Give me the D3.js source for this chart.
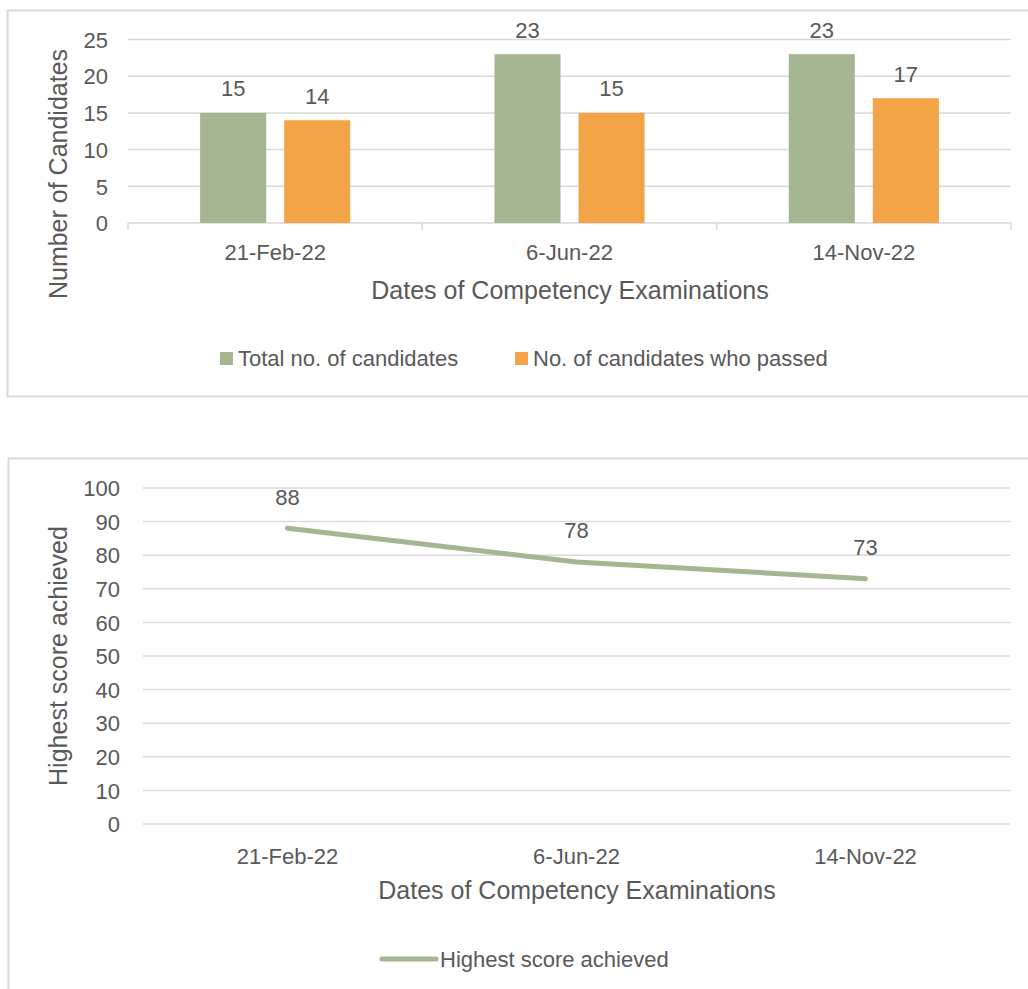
<!DOCTYPE html>
<html>
<head>
<meta charset="utf-8">
<script src="https://cdn.jsdelivr.net/npm/d3@7"></script>
<style>
  html, body { margin: 0; padding: 0; background: #fff; }
  svg text { font-family: "Liberation Sans", Arial, sans-serif; fill: #595959; }
</style>
</head>
<body>
<svg id="chart" width="1028" height="989"></svg>
<script>
// Exam dates shared by both charts
const examDates = ["21-Feb-22", "6-Jun-22", "14-Nov-22"];
// Candidates per exam
const totalCandidates = [15, 23, 23];
const passedCandidates = [14, 15, 17];
// Highest score per exam
const highestScores = [88, 78, 73];
// Axis ticks
const countTicks = [0, 5, 10, 15, 20, 25];
const scoreTicks = [0, 10, 20, 30, 40, 50, 60, 70, 80, 90, 100];

const seriesNames = ["Total no. of candidates", "No. of candidates who passed"];
const lineName = "Highest score achieved";
const xTitle = "Dates of Competency Examinations";

const GREEN = "#a6b592";
const ORANGE = "#f2a447";
const GRID = "#d9d9d9";
const TICK_FS = 22, TITLE_FS = 25, LEGEND_FS = 22, VALUE_FS = 22;

const svg = d3.select("#chart");

// ---------- Bar chart: candidates ----------
{
  const g = svg.append("g");
  g.append("rect").attr("x", 7.5).attr("y", 10.5).attr("width", 1030).attr("height", 386)
    .attr("fill", "#fff").attr("stroke", GRID).attr("stroke-width", 2);

  const left = 128, right = 1011, top = 39.5, bottom = 223;
  const x = d3.scaleBand().domain(examDates).range([left, right]);
  const y = d3.scaleLinear().domain([0, 25]).range([bottom, top]);
  // two bars per date, grouped in the middle of each band
  const groupW = x.bandwidth() * 0.51;
  const inner = d3.scaleBand().domain([0, 1])
    .range([(x.bandwidth() - groupW) / 2, (x.bandwidth() + groupW) / 2])
    .paddingInner(0.214);

  // gridlines
  g.selectAll("line.grid").data(countTicks.filter(d => d > 0)).join("line")
    .attr("x1", left).attr("x2", right)
    .attr("y1", d => y(d)).attr("y2", d => y(d))
    .attr("stroke", GRID).attr("stroke-width", 1.5);

  // x axis with tick marks at category boundaries
  const xAxis = d3.axisBottom(x).tickSize(0).tickPadding(0).tickFormat("");
  const ax = g.append("g").attr("transform", `translate(0,${bottom})`).call(xAxis);
  ax.select(".domain").attr("stroke", GRID).attr("stroke-width", 1.5).attr("d", `M${left},0H${right}`);
  g.selectAll("line.bound").data(d3.range(examDates.length + 1)).join("line")
    .attr("x1", i => left + i * x.step()).attr("x2", i => left + i * x.step())
    .attr("y1", bottom).attr("y2", bottom + 7)
    .attr("stroke", GRID).attr("stroke-width", 1.5);

  g.selectAll("text.cat").data(examDates).join("text")
    .attr("x", d => x(d) + x.bandwidth() / 2).attr("y", 252)
    .attr("text-anchor", "middle").attr("dominant-baseline", "central")
    .attr("font-size", TICK_FS).text(d => d);

  // y axis labels
  const yAxis = d3.axisLeft(y).tickValues(countTicks).tickSize(0).tickPadding(0);
  const ay = g.append("g").attr("transform", `translate(${left - 20},0)`).call(yAxis);
  ay.select(".domain").remove();
  ay.selectAll("text").attr("font-size", TICK_FS).attr("fill", "#595959")
    .attr("font-family", "Liberation Sans, Arial, sans-serif").attr("dy", "0.35em");

  // bars
  const series = [totalCandidates, passedCandidates];
  const colors = [GREEN, ORANGE];
  series.forEach((vals, s) => {
    g.selectAll(`rect.bar${s}`).data(vals).join("rect")
      .attr("x", (d, i) => x(examDates[i]) + inner(s))
      .attr("width", inner.bandwidth())
      .attr("y", d => y(d)).attr("height", d => bottom - y(d))
      .attr("fill", colors[s]);
    g.selectAll(`text.val${s}`).data(vals).join("text")
      .attr("x", (d, i) => x(examDates[i]) + inner(s) + inner.bandwidth() / 2)
      .attr("y", d => y(d) - 24)
      .attr("text-anchor", "middle").attr("dominant-baseline", "central")
      .attr("font-size", VALUE_FS).attr("fill", "#404040").text(d => d);
  });

  // axis titles
  g.append("text").attr("x", 570).attr("y", 290)
    .attr("text-anchor", "middle").attr("dominant-baseline", "central")
    .attr("font-size", TITLE_FS).text(xTitle);
  g.append("text").attr("transform", "translate(58,174) rotate(-90)")
    .attr("text-anchor", "middle").attr("dominant-baseline", "central")
    .attr("font-size", TITLE_FS).text("Number of Candidates");

  // legend
  const leg = [{ x: 220, c: GREEN, t: seriesNames[0] }, { x: 515, c: ORANGE, t: seriesNames[1] }];
  leg.forEach(l => {
    g.append("rect").attr("x", l.x).attr("y", 352).attr("width", 13).attr("height", 13).attr("fill", l.c);
    g.append("text").attr("x", l.x + 18).attr("y", 358.5).attr("dominant-baseline", "central")
      .attr("font-size", LEGEND_FS).text(l.t);
  });
}

// ---------- Line chart: highest score ----------
{
  const g = svg.append("g");
  g.append("rect").attr("x", 8.5).attr("y", 458.5).attr("width", 1030).attr("height", 540)
    .attr("fill", "#fff").attr("stroke", GRID).attr("stroke-width", 2);

  const left = 143, right = 1010, top = 488, bottom = 824;
  const x = d3.scalePoint().domain(examDates).range([left, right]).padding(0.5);
  const y = d3.scaleLinear().domain([0, 100]).range([bottom, top]);

  g.selectAll("line.grid").data(scoreTicks).join("line")
    .attr("x1", left).attr("x2", right)
    .attr("y1", d => y(d)).attr("y2", d => y(d))
    .attr("stroke", GRID).attr("stroke-width", 1.5);

  const yAxis = d3.axisLeft(y).tickValues(scoreTicks).tickSize(0).tickPadding(0);
  const ay = g.append("g").attr("transform", `translate(${left - 23},0)`).call(yAxis);
  ay.select(".domain").remove();
  ay.selectAll("text").attr("font-size", TICK_FS).attr("fill", "#595959")
    .attr("font-family", "Liberation Sans, Arial, sans-serif").attr("dy", "0.35em");

  g.selectAll("text.cat").data(examDates).join("text")
    .attr("x", d => x(d)).attr("y", 856)
    .attr("text-anchor", "middle").attr("dominant-baseline", "central")
    .attr("font-size", TICK_FS).text(d => d);

  const line = d3.line().x((d, i) => x(examDates[i])).y(d => y(d));
  g.append("path").datum(highestScores).attr("d", line)
    .attr("fill", "none").attr("stroke", GREEN).attr("stroke-width", 5)
    .attr("stroke-linecap", "round").attr("stroke-linejoin", "round");

  g.selectAll("text.val").data(highestScores).join("text")
    .attr("x", (d, i) => x(examDates[i])).attr("y", d => y(d) - 31)
    .attr("text-anchor", "middle").attr("dominant-baseline", "central")
    .attr("font-size", VALUE_FS).attr("fill", "#404040").text(d => d);

  g.append("text").attr("x", 577).attr("y", 890)
    .attr("text-anchor", "middle").attr("dominant-baseline", "central")
    .attr("font-size", TITLE_FS).text(xTitle);
  g.append("text").attr("transform", "translate(58,656) rotate(-90)")
    .attr("text-anchor", "middle").attr("dominant-baseline", "central")
    .attr("font-size", TITLE_FS).text(lineName);

  g.append("line").attr("x1", 382).attr("x2", 436).attr("y1", 959).attr("y2", 959)
    .attr("stroke", GREEN).attr("stroke-width", 5).attr("stroke-linecap", "round");
  g.append("text").attr("x", 440).attr("y", 959).attr("dominant-baseline", "central")
    .attr("font-size", LEGEND_FS).text(lineName);
}
</script>
</body>
</html>
